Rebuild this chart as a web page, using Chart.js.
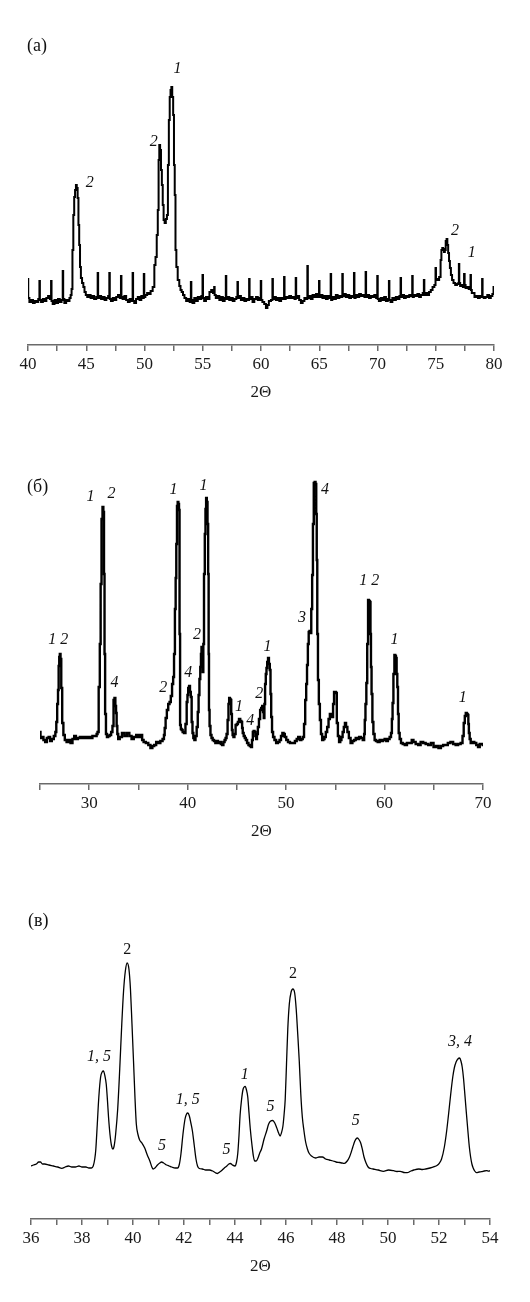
<!DOCTYPE html>
<html>
<head>
<meta charset="utf-8">
<script src="https://cdn.jsdelivr.net/npm/chart.js"></script>
<style>
  body { margin: 0; background: #fff; }
  .panel { position: absolute; left: 0; }
</style>
</head>
<body>
<canvas id="chartA" class="panel" width="530" height="410" style="top:0px"></canvas>
<canvas id="chartB" class="panel" width="530" height="430" style="top:420px"></canvas>
<canvas id="chartC" class="panel" width="530" height="430" style="top:860px"></canvas>
<script>
// [2θ, intensity (arb. units)]
const scanA = [
  [40.00, 66], [40.04, 47], [40.2, 43], [40.35, 45], [40.5, 42], [40.65, 44], [40.8, 43], [40.96, 46],
  [41.0, 64], [41.04, 45], [41.2, 43], [41.35, 46], [41.5, 44], [41.65, 47], [41.8, 49], [41.96, 46],
  [42.0, 64], [42.04, 44], [42.2, 41], [42.35, 45], [42.5, 42], [42.65, 46], [42.8, 43], [42.96, 45],
  [43.0, 74], [43.04, 46], [43.2, 42], [43.35, 45], [43.5, 44], [43.62, 47],
  [43.7, 50], [43.78, 56], [43.85, 95], [43.93, 130], [44.0, 148], [44.08, 155], [44.15, 160], [44.22, 157],
  [44.3, 147], [44.36, 120], [44.43, 100], [44.5, 78], [44.58, 67], [44.7, 62], [44.8, 58], [44.9, 53],
  [45.02, 50], [45.15, 48], [45.3, 50], [45.45, 47], [45.6, 49], [45.75, 46], [45.96, 48],
  [46.0, 72], [46.04, 47], [46.2, 49], [46.35, 46], [46.5, 48], [46.65, 45], [46.8, 47], [46.96, 49],
  [47.0, 72], [47.04, 46], [47.2, 44], [47.35, 47], [47.5, 45], [47.65, 48], [47.8, 50], [47.96, 47],
  [48.0, 69], [48.04, 48], [48.2, 46], [48.35, 49], [48.5, 45], [48.65, 43], [48.8, 46], [48.96, 44],
  [49.0, 72], [49.04, 44], [49.2, 42], [49.35, 46], [49.5, 48], [49.65, 45], [49.8, 49], [49.92, 47],
  [49.96, 71], [50.0, 48], [50.15, 50], [50.3, 52], [50.45, 51], [50.6, 54], [50.8, 58], [50.89, 80],
  [51.0, 88], [51.1, 110], [51.18, 135], [51.24, 185], [51.3, 200], [51.38, 195], [51.45, 175], [51.53, 160],
  [51.6, 140], [51.68, 125], [51.78, 122], [51.88, 126], [51.97, 130], [52.05, 180], [52.13, 225], [52.2, 248],
  [52.27, 255], [52.34, 258], [52.42, 248], [52.5, 230], [52.56, 180], [52.63, 150], [52.69, 95], [52.78, 78],
  [52.92, 65], [53.05, 59], [53.13, 55], [53.25, 53], [53.36, 50], [53.5, 47], [53.65, 44], [53.8, 46], [53.96, 43],
  [54.0, 63], [54.04, 45], [54.2, 42], [54.35, 47], [54.5, 44], [54.65, 48], [54.8, 46], [54.96, 49],
  [55.0, 70], [55.04, 47], [55.2, 44], [55.35, 48], [55.5, 46], [55.65, 53], [55.8, 55], [55.96, 52],
  [56.0, 58], [56.04, 50], [56.2, 47], [56.35, 49], [56.5, 45], [56.65, 48], [56.8, 44], [56.96, 47],
  [57.0, 69], [57.04, 46], [57.2, 48], [57.35, 45], [57.5, 47], [57.65, 44], [57.8, 46], [57.96, 48],
  [58.0, 63], [58.04, 47], [58.2, 49], [58.35, 45], [58.5, 47], [58.65, 44], [58.8, 46], [58.96, 45],
  [59.0, 66], [59.04, 46], [59.2, 48], [59.35, 43], [59.5, 46], [59.65, 48], [59.8, 45], [59.96, 47],
  [60.0, 64], [60.04, 45], [60.2, 43], [60.35, 41], [60.5, 37], [60.6, 40], [60.75, 44], [60.96, 45],
  [61.0, 66], [61.04, 46], [61.2, 48], [61.35, 45], [61.5, 47], [61.65, 44], [61.8, 47], [61.96, 46],
  [62.0, 68], [62.04, 46], [62.2, 48], [62.35, 47], [62.5, 49], [62.65, 47], [62.8, 48], [62.96, 46],
  [63.0, 67], [63.04, 47], [63.2, 49], [63.35, 45], [63.5, 42], [63.65, 44], [63.8, 47], [63.96, 46],
  [64.0, 79], [64.04, 47], [64.2, 49], [64.35, 46], [64.5, 50], [64.65, 48], [64.8, 51], [64.96, 48],
  [65.0, 64], [65.04, 48], [65.2, 50], [65.35, 47], [65.5, 49], [65.65, 46], [65.8, 49], [65.96, 47],
  [66.0, 71], [66.04, 45], [66.2, 48], [66.35, 46], [66.5, 50], [66.65, 47], [66.8, 49], [66.96, 48],
  [67.0, 71], [67.04, 49], [67.2, 51], [67.35, 48], [67.5, 50], [67.65, 47], [67.8, 49], [67.96, 48],
  [68.0, 72], [68.04, 47], [68.2, 50], [68.35, 48], [68.5, 51], [68.65, 49], [68.8, 50], [68.96, 48],
  [69.0, 73], [69.04, 48], [69.2, 50], [69.35, 47], [69.5, 49], [69.65, 48], [69.8, 50], [69.96, 47],
  [70.0, 69], [70.04, 46], [70.2, 44], [70.35, 47], [70.5, 45], [70.65, 48], [70.8, 44], [70.96, 46],
  [71.0, 64], [71.04, 45], [71.2, 43], [71.35, 47], [71.5, 45], [71.65, 48], [71.8, 46], [71.96, 49],
  [72.0, 67], [72.04, 48], [72.2, 50], [72.35, 47], [72.5, 49], [72.65, 48], [72.8, 50], [72.96, 49],
  [73.0, 69], [73.04, 48], [73.2, 50], [73.35, 49], [73.5, 51], [73.65, 48], [73.8, 50], [73.96, 52],
  [74.0, 65], [74.04, 50], [74.2, 52], [74.35, 50], [74.5, 53], [74.65, 55], [74.8, 58], [74.96, 60],
  [75.0, 77], [75.04, 66], [75.2, 65], [75.38, 68], [75.45, 85], [75.52, 95], [75.6, 97], [75.67, 96],
  [75.75, 93], [75.81, 95], [75.9, 104], [75.96, 106], [76.03, 100], [76.1, 92], [76.18, 84], [76.25, 77],
  [76.35, 70], [76.45, 65], [76.6, 62], [76.74, 60], [76.9, 61], [76.97, 62], [77.0, 81], [77.04, 62],
  [77.15, 59], [77.26, 60], [77.4, 58], [77.46, 71], [77.5, 60], [77.62, 57], [77.76, 58], [77.9, 56],
  [77.97, 57], [78.0, 70], [78.04, 55], [78.15, 52], [78.25, 52], [78.4, 48], [78.55, 49], [78.7, 47],
  [78.85, 49], [78.96, 48], [79.0, 66], [79.04, 48], [79.2, 47], [79.35, 48], [79.5, 50], [79.65, 47],
  [79.8, 49], [79.92, 51], [80.0, 58]
];

const scanB = [
  [25.0, 52], [25.1, 46], [25.25, 47], [25.45, 44], [25.6, 42], [25.8, 46], [25.95, 47], [26.1, 43],
  [26.3, 45], [26.5, 48], [26.62, 52], [26.69, 62], [26.8, 80], [26.86, 94], [26.93, 118], [26.98, 127],
  [27.05, 130], [27.12, 125], [27.2, 96], [27.31, 61], [27.44, 49], [27.6, 44], [27.8, 42], [28.0, 44],
  [28.2, 41], [28.4, 45], [28.55, 48], [28.75, 45], [28.95, 46], [29.15, 47], [29.35, 46], [29.55, 47],
  [29.75, 46], [30.0, 47], [30.2, 46], [30.45, 48], [30.7, 48], [30.8, 50], [30.89, 52], [31.03, 97],
  [31.12, 140], [31.2, 200], [31.3, 265], [31.4, 277], [31.47, 272], [31.53, 210], [31.58, 130], [31.65, 70],
  [31.75, 50], [31.85, 47], [32.0, 48], [32.15, 49], [32.3, 52], [32.42, 58], [32.52, 84], [32.61, 86],
  [32.7, 78], [32.75, 71], [32.82, 58], [32.89, 50], [33.0, 45], [33.2, 47], [33.45, 51], [33.7, 48],
  [33.95, 51], [34.2, 48], [34.4, 45], [34.65, 47], [34.9, 49], [35.1, 47], [35.3, 49], [35.45, 44],
  [35.6, 42], [35.9, 41], [36.1, 39], [36.33, 36], [36.5, 38], [36.7, 39], [36.9, 42], [37.1, 41],
  [37.35, 43], [37.55, 45], [37.63, 49], [37.7, 56], [37.82, 66], [37.95, 74], [38.1, 80], [38.22, 82],
  [38.35, 88], [38.48, 100], [38.57, 107], [38.66, 130], [38.75, 175], [38.81, 206], [38.88, 240], [38.95, 278],
  [39.02, 282], [39.09, 280], [39.15, 274], [39.2, 150], [39.26, 59], [39.35, 55], [39.43, 54], [39.55, 52],
  [39.7, 51], [39.85, 60], [39.95, 82], [40.01, 89], [40.1, 96], [40.19, 98], [40.28, 92], [40.36, 87],
  [40.45, 62], [40.53, 51], [40.62, 46], [40.74, 44], [40.85, 48], [40.98, 57], [41.07, 72], [41.15, 89],
  [41.24, 105], [41.32, 117], [41.38, 130], [41.43, 137], [41.5, 128], [41.56, 112], [41.62, 140], [41.7, 210],
  [41.78, 250], [41.84, 275], [41.91, 286], [41.98, 282], [42.05, 260], [42.11, 210], [42.15, 130], [42.18, 74],
  [42.27, 58], [42.36, 49], [42.48, 46], [42.6, 44], [42.75, 43], [42.87, 41], [43.0, 43], [43.15, 41],
  [43.3, 42], [43.45, 40], [43.56, 39], [43.7, 42], [43.8, 44], [43.9, 46], [44.0, 50], [44.11, 64],
  [44.18, 80], [44.25, 86], [44.32, 85], [44.39, 84], [44.46, 70], [44.53, 54], [44.6, 49], [44.7, 47],
  [44.8, 50], [44.94, 59], [45.05, 60], [45.15, 62], [45.28, 65], [45.4, 63], [45.5, 62], [45.56, 56],
  [45.63, 51], [45.75, 48], [45.85, 46], [45.97, 44], [46.1, 41], [46.25, 39], [46.38, 38], [46.49, 37],
  [46.58, 44], [46.66, 52], [46.75, 53], [46.83, 52], [46.92, 48], [47.0, 45], [47.08, 50], [47.18, 57],
  [47.3, 65], [47.42, 74], [47.52, 76], [47.62, 78], [47.7, 72], [47.76, 66], [47.83, 80], [47.9, 100],
  [47.97, 110], [48.04, 116], [48.12, 122], [48.21, 126], [48.3, 120], [48.38, 114], [48.45, 90], [48.52, 67],
  [48.62, 52], [48.73, 47], [48.9, 44], [49.07, 41], [49.25, 42], [49.41, 44], [49.55, 48], [49.69, 51],
  [49.8, 50], [49.93, 47], [50.1, 44], [50.28, 42], [50.5, 41], [50.79, 41], [51.0, 43], [51.15, 45],
  [51.31, 47], [51.48, 44], [51.62, 45], [51.76, 47], [51.88, 60], [52.0, 84], [52.08, 100], [52.17, 119],
  [52.25, 140], [52.34, 152], [52.42, 153], [52.51, 151], [52.6, 175], [52.69, 209], [52.76, 260], [52.86, 301],
  [52.95, 302], [53.03, 300], [53.09, 270], [53.13, 224], [53.2, 150], [53.27, 104], [53.38, 80], [53.48, 64],
  [53.6, 50], [53.72, 44], [53.84, 45], [53.96, 47], [54.1, 52], [54.24, 57], [54.38, 65], [54.51, 70],
  [54.62, 69], [54.72, 67], [54.82, 80], [54.92, 92], [55.02, 92], [55.1, 91], [55.2, 61], [55.32, 48],
  [55.44, 42], [55.56, 44], [55.68, 47], [55.8, 52], [55.92, 57], [56.03, 61], [56.15, 57], [56.3, 52],
  [56.45, 46], [56.65, 41], [56.82, 43], [56.99, 44], [57.15, 46], [57.33, 45], [57.5, 47], [57.68, 46],
  [57.89, 44], [57.96, 50], [58.02, 64], [58.1, 80], [58.2, 101], [58.28, 140], [58.37, 184], [58.45, 183],
  [58.54, 182], [58.6, 150], [58.64, 117], [58.72, 90], [58.81, 62], [58.92, 50], [59.06, 44], [59.2, 43],
  [59.4, 42], [59.6, 44], [59.76, 43], [59.92, 44], [60.1, 45], [60.25, 43], [60.43, 45], [60.6, 47],
  [60.71, 51], [60.78, 65], [60.85, 81], [60.95, 110], [61.05, 129], [61.12, 128], [61.19, 126], [61.26, 110],
  [61.33, 97], [61.4, 70], [61.47, 51], [61.6, 45], [61.74, 41], [61.95, 40], [62.15, 39], [62.4, 41],
  [62.67, 41], [62.85, 44], [63.02, 42], [63.3, 40], [63.53, 39], [63.8, 42], [64.05, 41], [64.3, 40],
  [64.57, 39], [64.85, 41], [65.1, 37], [65.35, 38], [65.6, 36], [65.85, 38], [66.05, 39], [66.3, 39],
  [66.55, 41], [66.83, 42], [67.1, 40], [67.34, 39], [67.6, 40], [67.86, 41], [67.98, 48], [68.1, 61],
  [68.2, 68], [68.3, 71], [68.4, 70], [68.48, 69], [68.54, 60], [68.59, 51], [68.7, 45], [68.8, 41],
  [69.0, 42], [69.23, 41], [69.4, 39], [69.59, 37], [69.75, 40], [69.93, 40], [70.0, 39]
];

const scanC = [
  [36.0, 53], [36.1, 54], [36.21, 55], [36.3, 57], [36.37, 57], [36.45, 55], [36.54, 55], [36.7, 54],
  [36.88, 53], [37.05, 52], [37.21, 50.7], [37.34, 52], [37.47, 53], [37.6, 52], [37.74, 52], [37.88, 53],
  [38.0, 52], [38.15, 52], [38.27, 51], [38.37, 51], [38.44, 53], [38.5, 60], [38.54, 69], [38.6, 95],
  [38.66, 122], [38.73, 142], [38.79, 147], [38.84, 148], [38.9, 143], [38.95, 135], [39.0, 118], [39.04, 102],
  [39.1, 84], [39.16, 73], [39.21, 70], [39.26, 73], [39.32, 85], [39.4, 110], [39.48, 150], [39.56, 195],
  [39.63, 228], [39.7, 248], [39.77, 256], [39.84, 250], [39.9, 230], [39.96, 195], [40.02, 158], [40.08, 120],
  [40.13, 95], [40.2, 84], [40.26, 79], [40.35, 76], [40.46, 71], [40.56, 64], [40.66, 58], [40.74, 52],
  [40.79, 50], [40.86, 51], [40.96, 54], [41.05, 56], [41.12, 57], [41.2, 56], [41.32, 54], [41.42, 53],
  [41.52, 52], [41.65, 51], [41.75, 51], [41.82, 55], [41.88, 65], [41.96, 85], [42.04, 100], [42.1, 105],
  [42.15, 106], [42.21, 103], [42.27, 96], [42.33, 88], [42.4, 74], [42.47, 60], [42.53, 53], [42.6, 50.5],
  [42.72, 50], [42.85, 49], [43.0, 49], [43.12, 48], [43.22, 46.5], [43.31, 45.5], [43.4, 47], [43.5, 49],
  [43.58, 51], [43.68, 53], [43.76, 55], [43.82, 55.5], [43.9, 54], [44.0, 53], [44.06, 57], [44.11, 66],
  [44.16, 85], [44.2, 104], [44.26, 120], [44.31, 129], [44.36, 132], [44.4, 132.5], [44.45, 129], [44.5, 122],
  [44.55, 106], [44.6, 90], [44.67, 73], [44.72, 63], [44.77, 58], [44.83, 58], [44.9, 61], [44.97, 66],
  [45.04, 70], [45.14, 80], [45.24, 88], [45.32, 95], [45.4, 98], [45.48, 98.5], [45.56, 96], [45.64, 91],
  [45.71, 86], [45.77, 83], [45.82, 86], [45.88, 93], [45.93, 106], [45.97, 120], [46.02, 155], [46.07, 190],
  [46.13, 215], [46.2, 227], [46.27, 230], [46.34, 226], [46.4, 210], [46.46, 185], [46.52, 158], [46.58, 125],
  [46.64, 102], [46.7, 89], [46.77, 77], [46.84, 70], [46.9, 66], [47.0, 63], [47.16, 61], [47.3, 62],
  [47.43, 62], [47.55, 60], [47.7, 59], [47.85, 58], [47.96, 57], [48.1, 56.5], [48.2, 56], [48.29, 55.7],
  [48.4, 58], [48.49, 62], [48.56, 67], [48.62, 72], [48.7, 78], [48.76, 80.5], [48.8, 81], [48.86, 79.5],
  [48.93, 76], [49.0, 69], [49.06, 62], [49.14, 56], [49.22, 52], [49.32, 50.5], [49.42, 50], [49.62, 49],
  [49.82, 47.7], [50.02, 49], [50.22, 48.3], [50.35, 47.5], [50.48, 47.7], [50.62, 46.5], [50.75, 46.3], [50.9, 48],
  [51.01, 49], [51.21, 50], [51.35, 49.5], [51.48, 50], [51.65, 51], [51.81, 52.3], [51.92, 53.5], [52.01, 55.7],
  [52.1, 60], [52.21, 72], [52.3, 88], [52.38, 106], [52.46, 125], [52.54, 142], [52.6, 151], [52.67, 157],
  [52.74, 160], [52.81, 161], [52.86, 158], [52.91, 152], [52.96, 141], [53.0, 129], [53.07, 107], [53.14, 86],
  [53.19, 72], [53.24, 62], [53.29, 55], [53.34, 51], [53.4, 48], [53.47, 46.3], [53.57, 47], [53.67, 47.3],
  [53.77, 48], [53.87, 48.3], [53.95, 47.8], [54.0, 48.3]
];

// phase labels: [2θ, intensity, text]
const peaksA = [[45.29, 162, '2'], [50.8, 203, '2'], [52.84, 276, '1'], [76.65, 114, '2'], [78.1, 92, '1']];
const peaksB = [
  [26.86, 144, '1 2'], [30.13, 287, '1'], [32.27, 290, '2'], [32.58, 101, '4'], [37.53, 96, '2'],
  [38.57, 294, '1'], [40.05, 111, '4'], [40.94, 149, '2'], [41.6, 298, '1'], [45.21, 77, '1'],
  [46.35, 63, '4'], [47.28, 90, '2'], [48.11, 137, '1'], [51.62, 166, '3'], [53.96, 294, '4'],
  [58.44, 203, '1 2'], [61.02, 144, '1'], [67.94, 86, '1']
];
const peaksC = [
  [38.67, 162, '1, 5'], [41.14, 73, '5'], [42.15, 119, '1, 5'], [43.67, 69, '5'],
  [44.38, 144, '1'], [45.39, 112, '5'], [48.74, 98, '5'], [52.82, 177, '3, 4']
];
const peaksC2 = [[39.77, 269, '2'], [46.27, 245, '2']];

const SERIF = '"Liberation Serif", "Times New Roman", serif';

const annotate = {
  id: 'annotate',
  afterDatasetsDraw(chart, args, opts) {
    const { ctx } = chart;
    const x = chart.scales.x, y = chart.scales.y;
    ctx.save();
    ctx.fillStyle = '#111';
    ctx.textAlign = 'center';
    ctx.textBaseline = 'middle';
    opts.sets.forEach(set => {
      ctx.font = (set.italic ? 'italic ' : '') + '16px ' + SERIF;
      set.items.forEach(p => {
        ctx.fillText(p[2], x.getPixelForValue(p[0]), y.getPixelForValue(p[1]));
      });
    });
    // panel letter
    ctx.textAlign = 'left';
    ctx.font = '18px ' + SERIF;
    ctx.fillText(opts.panel, opts.panelPos[0], opts.panelPos[1]);
    ctx.restore();
  }
};

function makeChart(id, scan, cfg) {
  return new Chart(document.getElementById(id), {
    type: 'line',
    data: {
      datasets: [{
        data: scan.map(p => ({ x: p[0], y: p[1] })),
        borderColor: '#000',
        borderWidth: cfg.lineWidth,
        pointRadius: 0,
        stepped: cfg.stepped,
        cubicInterpolationMode: cfg.smooth ? 'monotone' : 'default',
        tension: 0
      }]
    },
    options: {
      responsive: false,
      animation: false,
      layout: { padding: cfg.padding },
      plugins: {
        legend: { display: false },
        tooltip: { enabled: false },
        annotate: { sets: cfg.labels, panel: cfg.panel, panelPos: cfg.panelPos }
      },
      scales: {
        x: {
          type: 'linear',
          min: cfg.min, max: cfg.max,
          afterFit: s => { s.height = 60; },
          border: { display: true, color: '#6a6a6a', width: 1.5 },
          grid: { drawOnChartArea: false, drawTicks: true, tickLength: 6, color: '#6a6a6a', lineWidth: 1.5 },
          ticks: {
            stepSize: cfg.step,
            autoSkip: false,
            maxRotation: 0,
            padding: 3,
            color: '#1a1a1a',
            font: { family: SERIF, size: 17 },
            callback: v => (Math.abs(v % cfg.labelEvery) < 1e-6 ? v : '')
          },
          title: {
            display: true,
            text: '2Θ',
            color: '#1a1a1a',
            font: { family: SERIF, size: 17 },
            padding: { top: 0, bottom: 2 }
          }
        },
        y: { display: false, min: 0, max: cfg.ymax }
      }
    },
    plugins: [annotate]
  });
}

makeChart('chartA', scanA, {
  min: 40, max: 80, step: 2.5, labelEvery: 5, ymax: 300, lineWidth: 2, stepped: 'middle',
  padding: { left: 28, right: 36, top: 45, bottom: 5 },
  labels: [{ items: peaksA, italic: true }], panel: '(а)', panelPos: [27, 46]
});
makeChart('chartB', scanB, {
  min: 25, max: 70, step: 5, labelEvery: 10, ymax: 330, lineWidth: 2.4, stepped: 'middle',
  padding: { left: 40, right: 47, top: 34, bottom: 6 },
  labels: [{ items: peaksB, italic: true }], panel: '(б)', panelPos: [27, 67]
});
makeChart('chartC', scanC, {
  min: 36, max: 54, step: 1, labelEvery: 2, ymax: 300, lineWidth: 1.3, stepped: false, smooth: true,
  padding: { left: 31, right: 40, top: 59, bottom: 11 },
  labels: [{ items: peaksC, italic: true }, { items: peaksC2, italic: false }], panel: '(в)', panelPos: [28, 61]
});
</script>
</body>
</html>
